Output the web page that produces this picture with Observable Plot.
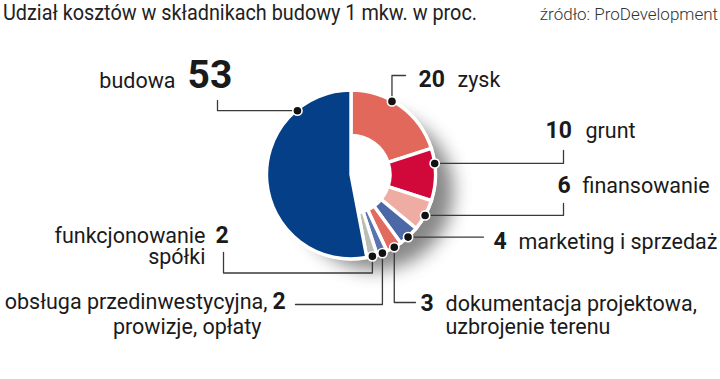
<!DOCTYPE html>
<html><head><meta charset="utf-8">
<script src="https://cdn.jsdelivr.net/npm/d3@7"></script>
<script src="https://cdn.jsdelivr.net/npm/@observablehq/plot@0.6"></script>
<style>body{margin:0;background:#fff}svg{display:block}</style>
</head><body><div id="chart"></div>
<script>
// ---- data ----
const title = "Udział kosztów w składnikach budowy 1 mkw. w proc.";
const source = "źródło: ProDevelopment";
const categories = ["zysk", "grunt", "finansowanie", "marketing i sprzedaż",
  "dokumentacja projektowa, uzbrojenie terenu", "obsługa przedinwestycyjna, prowizje, opłaty",
  "funkcjonowanie spółki", "budowa"];
const labelLines = [["zysk"], ["grunt"], ["finansowanie"], ["marketing i sprzedaż"],
  ["dokumentacja projektowa,", "uzbrojenie terenu"], ["obsługa przedinwestycyjna,", "prowizje, opłaty"],
  ["funkcjonowanie", "spółki"], ["budowa"]];
const values = [20, 10, 6, 4, 3, 2, 2, 53];
const colors = ["#e2685c", "#d0093a", "#efaca2", "#4d68a7", "#e06b5e", "#5a74b0", "#b9bdb6", "#043f87"];

// ---- layout (positions only) ----
const W = 720, H = 379;
const center = [351, 174.5];
const rOuter = 84.5, rInner = 39, rDot = 84;
const layout = [
  {nx: 418, ny: 86, names: [[457, 86, "start"]], dot: 0.40, path: [["v", 75], ["h", 405]]},
  {nx: 545, ny: 137, names: [[585, 137, "start"]], dot: 0.28, path: [["h", 563], ["v", 150]]},
  {nx: 557, ny: 192, names: [[582, 192, "start"]], dot: 0.50, path: [["h", 563], ["v", 203]]},
  {nx: 493, ny: 248, names: [[518, 248, "start"]], dot: 0.56, path: [["h", 483]]},
  {nx: 420, ny: 310, names: [[445, 310, "start"], [445, 333, "start"]], dot: 0.50, path: [["v", 302], ["h", 415]]},
  {nx: 272, ny: 308, names: [[267, 308, "end"], [261, 333, "end"]], dot: 0.50, path: [["v", 304], ["h", 295]]},
  {nx: 215, ny: 242, names: [[205, 242, "end"], [205, 263, "end"]], dot: 0.50, path: [["v", 272.5], ["h", 223], ["v", 252]]},
  {nx: 187, ny: 87, names: [[175, 87, "end"]], dot: 0.79, path: [["h", 217], ["v", 100]], big: true}
];

// ---- derived ----
const arcs = d3.pie().sort(null).value(d => d).startAngle(0).endAngle(2 * Math.PI)(values);
const dots = arcs.map((a, i) => {
  const ang = a.startAngle + layout[i].dot * (a.endAngle - a.startAngle);
  return {i, x: center[0] + rDot * Math.sin(ang), y: center[1] - rDot * Math.cos(ang)};
});
const linePts = [];
dots.forEach(d => {
  let x = d.x, y = d.y;
  linePts.push({k: d.i, x, y});
  for (const [dir, v] of layout[d.i].path) {
    if (dir === "h") x = v; else y = v;
    linePts.push({k: d.i, x, y});
  }
});
const numRows = values.map((v, i) => ({text: String(v), x: layout[i].nx, y: layout[i].ny, big: !!layout[i].big}));
const nameRows = [];
labelLines.forEach((lines, i) => lines.forEach((t, j) => {
  const [x, y, anchor] = layout[i].names[j];
  nameRows.push({text: t, x, y, anchor});
}));

function pieMark(index, scales) {
  const g = d3.create("svg:g");
  const cx = scales.x(center[0]), cy = scales.y(center[1]);
  const f = g.append("defs").append("filter").attr("id", "shadowblur")
    .attr("x", "-50%").attr("y", "-50%").attr("width", "200%").attr("height", "200%");
  f.append("feGaussianBlur").attr("stdDeviation", 9);
  g.append("circle").attr("cx", cx + 24).attr("cy", cy + 17).attr("r", rOuter - 6)
    .attr("fill", "#555").attr("opacity", 0.7).attr("filter", "url(#shadowblur)");
  g.append("circle").attr("cx", cx).attr("cy", cy).attr("r", rOuter + 1.5).attr("fill", "#fff");
  const arc = d3.arc();
  g.append("g").attr("transform", `translate(${cx},${cy})`)
    .selectAll("path").data(arcs).join("path")
    .attr("d", (a, i) => arc({innerRadius: i === values.length - 1 ? 0 : rInner, outerRadius: rOuter,
      startAngle: a.startAngle, endAngle: a.endAngle}))
    .attr("fill", (a, i) => colors[i])
    .attr("stroke", "#fff").attr("stroke-width", 3.4).attr("stroke-linejoin", "miter");
  g.append("text").attr("x", scales.x(3)).attr("y", scales.y(20)).attr("text-anchor", "start")
    .attr("font-family", "Roboto").attr("font-size", 21.5).attr("fill", "#222")
    .attr("textLength", 474).attr("lengthAdjust", "spacingAndGlyphs").text(title);
  g.append("text").attr("x", scales.x(718)).attr("y", scales.y(20)).attr("text-anchor", "end")
    .attr("font-family", "Roboto").attr("font-weight", 300).attr("font-size", 17).attr("fill", "#333")
    .text(source);
  return g.node();
}

const chart = Plot.plot({
  width: W, height: H, margin: 0,
  x: {domain: [0, W], range: [0, W], axis: null},
  y: {domain: [0, H], range: [0, H], axis: null},
  style: {fontFamily: "Roboto", background: "#fff"},
  marks: [
    pieMark,
    Plot.line(linePts, {x: "x", y: "y", z: "k", stroke: "#3a3a3a", strokeWidth: 1.3, curve: "linear"}),
    Plot.dot(dots, {x: "x", y: "y", r: 4.6, fill: "#111", stroke: "#fff", strokeWidth: 1.6}),
    Plot.text(numRows.filter(d => !d.big), {x: "x", y: "y", text: "text", textAnchor: "start", lineAnchor: "bottom",
      fontSize: 23, fontWeight: 700, fill: "#1a1a1a"}),
    Plot.text(numRows.filter(d => d.big), {x: "x", y: "y", text: "text", textAnchor: "start", lineAnchor: "bottom",
      fontSize: 39, fontWeight: 700, fill: "#1a1a1a"}),
    Plot.text(nameRows.filter(d => d.anchor === "start"), {x: "x", y: "y", text: "text", textAnchor: "start",
      lineAnchor: "bottom", fontSize: 21.5, fill: "#1a1a1a"}),
    Plot.text(nameRows.filter(d => d.anchor === "end"), {x: "x", y: "y", text: "text", textAnchor: "end",
      lineAnchor: "bottom", fontSize: 21.5, fill: "#1a1a1a"})
  ]
});
document.getElementById("chart").appendChild(chart);
</script></body></html>
